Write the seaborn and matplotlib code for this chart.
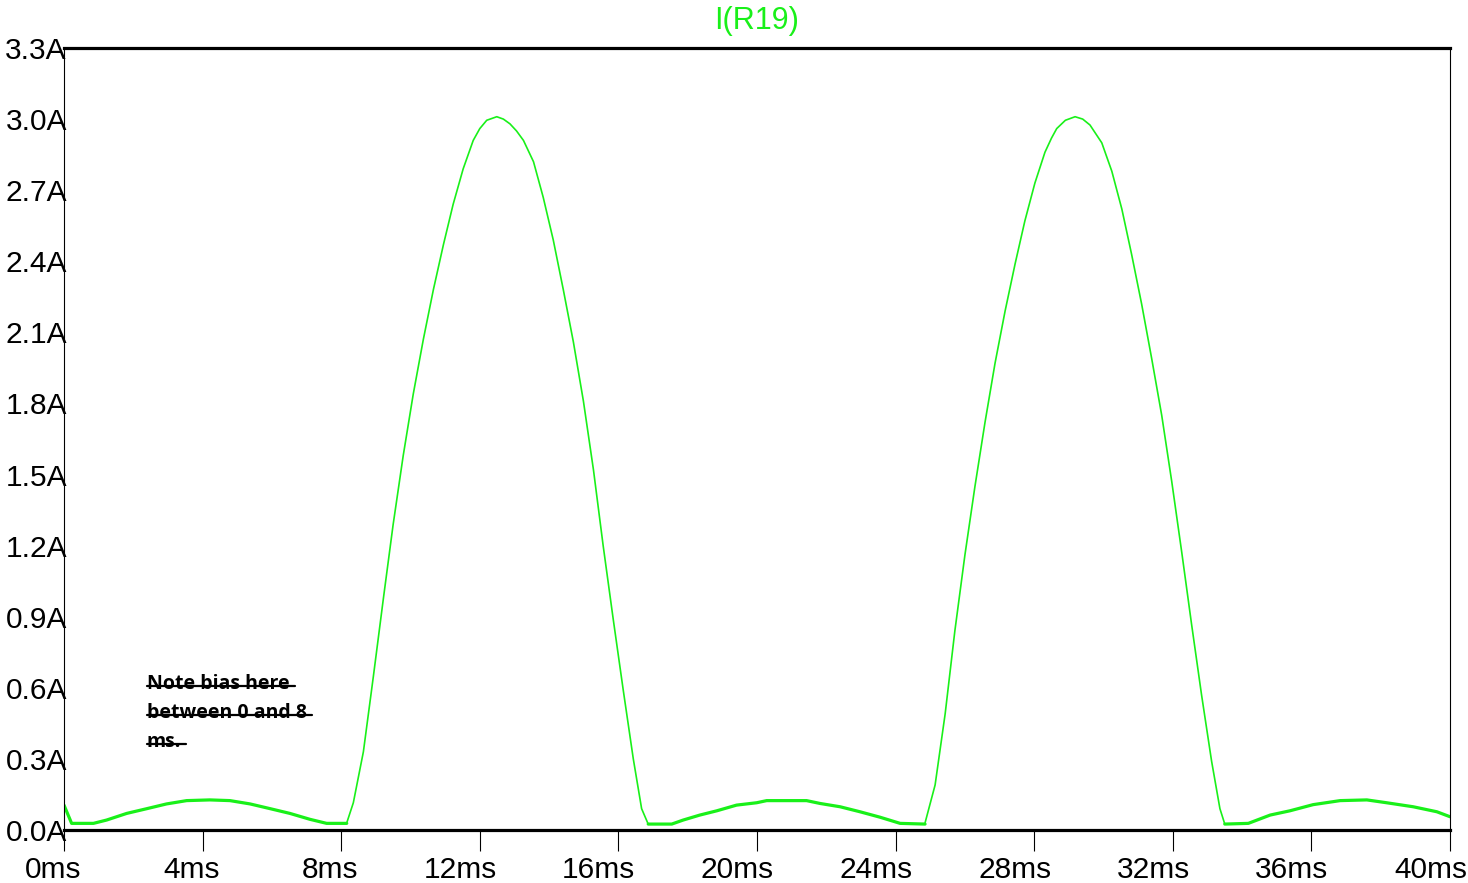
import numpy as np
import pandas as pd
import seaborn as sns
import matplotlib
matplotlib.use("Agg")
import matplotlib.pyplot as plt
from matplotlib.lines import Line2D
from matplotlib.transforms import ScaledTranslation

trace_name = "I(R19)"
trace_color = "#19f019"

x_ticks = [0, 4, 8, 12, 16, 20, 24, 28, 32, 36, 40]
x_tick_labels = [f"{v}ms" for v in x_ticks]
y_ticks = [0.0, 0.3, 0.6, 0.9, 1.2, 1.5, 1.8, 2.1, 2.4, 2.7, 3.0, 3.3]
y_tick_labels = [f"{v:.1f}A" for v in y_ticks]

note_lines = ["Note bias here", "between 0 and 8", "ms."]

# values (time in ms, current in A)
t_bump1 = [0.0, 0.22, 0.85, 1.23, 1.81, 2.39, 2.96, 3.54, 4.21, 4.79, 5.37, 5.95, 6.52, 7.10, 7.58, 8.16]
i_bump1 = [0.105, 0.028, 0.028, 0.042, 0.07, 0.09, 0.11, 0.124, 0.127, 0.124, 0.11, 0.09, 0.07, 0.045, 0.028, 0.028]

t_pulse1 = [8.16, 8.35, 8.64, 8.93, 9.22, 9.50, 9.79, 10.08, 10.37, 10.66, 10.95, 11.23, 11.52, 11.81,
            12.00, 12.20, 12.49, 12.68, 12.87, 13.06, 13.26, 13.55, 13.83, 14.12, 14.41, 14.70, 14.99,
            15.28, 15.56, 15.85, 16.14, 16.43, 16.67, 16.86]
i_pulse1 = [0.03, 0.115, 0.33, 0.65, 0.98, 1.29, 1.58, 1.84, 2.07, 2.28, 2.47, 2.64, 2.79, 2.91,
            2.96, 2.995, 3.01, 3.00, 2.98, 2.95, 2.91, 2.82, 2.67, 2.49, 2.28, 2.06, 1.81,
            1.52, 1.20, 0.89, 0.59, 0.30, 0.09, 0.025]

t_bump2 = [16.86, 17.54, 17.87, 18.35, 18.84, 19.41, 19.99, 20.28, 20.86, 21.43, 21.82, 22.40, 22.97, 23.55, 24.13, 24.85]
i_bump2 = [0.025, 0.025, 0.042, 0.063, 0.081, 0.105, 0.115, 0.124, 0.124, 0.124, 0.112, 0.098, 0.077, 0.054, 0.028, 0.025]

t_pulse2 = [24.85, 25.14, 25.43, 25.71, 26.00, 26.29, 26.58, 26.87, 27.16, 27.45, 27.73, 28.02, 28.31,
            28.50, 28.65, 28.90, 29.18, 29.40, 29.61, 29.95, 30.24, 30.53, 30.81, 31.10, 31.39, 31.68,
            31.97, 32.26, 32.54, 32.83, 33.12, 33.36, 33.50]
i_pulse2 = [0.03, 0.19, 0.49, 0.84, 1.16, 1.45, 1.72, 1.97, 2.19, 2.39, 2.57, 2.73, 2.86,
            2.92, 2.96, 2.995, 3.01, 3.00, 2.975, 2.90, 2.78, 2.62, 2.43, 2.22, 1.99, 1.75,
            1.47, 1.17, 0.87, 0.57, 0.29, 0.09, 0.025]

t_bump3 = [33.50, 34.18, 34.81, 35.38, 36.05, 36.83, 37.60, 38.17, 38.94, 39.62, 40.0]
i_bump3 = [0.025, 0.028, 0.063, 0.081, 0.107, 0.124, 0.127, 0.115, 0.098, 0.077, 0.056]

segments = [("b1", "bump", t_bump1, i_bump1), ("p1", "pulse", t_pulse1, i_pulse1),
            ("b2", "bump", t_bump2, i_bump2), ("p2", "pulse", t_pulse2, i_pulse2),
            ("b3", "bump", t_bump3, i_bump3)]
df = pd.concat([pd.DataFrame({"t_ms": t, "i_A": i, "seg": s, "kind": k})
                for s, k, t, i in segments], ignore_index=True)

sns.set_style("white")
plt.rcParams["font.family"] = ["Liberation Sans", "DejaVu Sans"]
plt.rcParams["text.color"] = "black"

W, H = 1468, 883
fig = plt.figure(figsize=(W / 100, H / 100), dpi=100)
ax = fig.add_axes([64 / W, 53 / H, 1386 / W, 782 / H])

sns.lineplot(data=df, x="t_ms", y="i_A", units="seg", size="kind",
             sizes={"bump": 2.3, "pulse": 1.2}, color=trace_color,
             estimator=None, sort=False, legend=False, ax=ax)

ax.set_xlim(0, 40)
ax.set_ylim(0, 3.3)
ax.set_xlabel("")
ax.set_ylabel("")

ax.set_xticks(x_ticks)
ax.set_xticklabels(x_tick_labels, fontsize=21.5)
ax.set_yticks(y_ticks)
ax.set_yticklabels(y_tick_labels, fontsize=21.5)
ax.tick_params(axis="x", direction="out", length=15, width=0.8, color="black",
               labelcolor="black", pad=3.5, bottom=True)
ax.tick_params(axis="y", length=0, pad=-2, labelcolor="black")

# x labels sit slightly left of their ticks
for lbl in ax.get_xticklabels():
    lbl.set_horizontalalignment("right")
    lbl.set_transform(lbl.get_transform() + ScaledTranslation(0.17, 0, fig.dpi_scale_trans))

for name, sp in ax.spines.items():
    sp.set_visible(True)
    sp.set_color("black")
    sp.set_linewidth(2.3 if name in ("top", "bottom") else 0.8)

fig.text(757 / W, 1 - 21 / H, trace_name, color=trace_color, fontsize=22,
         ha="center", va="center")

# struck-through note
note_texts = []
for k, line in enumerate(note_lines):
    txt = fig.text(147 / W, 1 - (684 + 29 * k) / H, line, fontsize=14,
                   fontweight="bold", family=["Open Sans", "DejaVu Sans"],
                   ha="left", va="center", color="black")
    note_texts.append(txt)

fig.canvas.draw()
renderer = fig.canvas.get_renderer()
for txt in note_texts:
    bb = txt.get_window_extent(renderer)
    y = bb.y0 + 0.42 * bb.height
    fig.add_artist(Line2D([bb.x0 / W, (bb.x1 + 5) / W], [y / H, y / H],
                          transform=fig.transFigure, color="black", linewidth=1.6))

fig.savefig("out.png", dpi=100)
